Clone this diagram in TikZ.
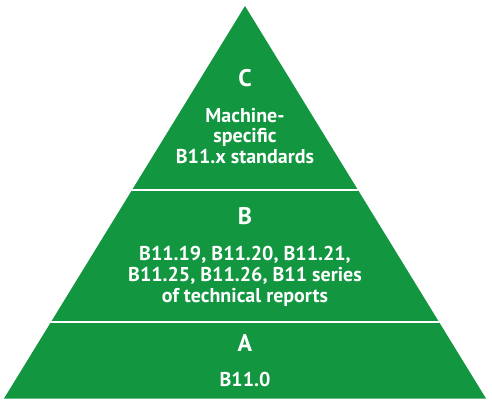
\documentclass[tikz,border=0pt]{standalone}
\usepackage{fontspec}
\setmainfont{PT Sans}
\definecolor{pyrgreen}{RGB}{18,150,64}
\begin{document}
\begin{tikzpicture}[x=1pt,y=-1pt,
  lbl/.style={text=white,font=\bfseries\fontsize{24}{28}\selectfont,inner sep=0,anchor=base},
  txt/.style={text=white,font=\bfseries\fontsize{20}{24}\selectfont,inner sep=0,anchor=base}]
\useasboundingbox (0,0) rectangle (492,414);
\begin{scope}
  \clip (245,6) -- (4,398.5) -- (486,398.5) -- cycle;
  \fill[pyrgreen] (0,0) rectangle (492,414);
  \draw[white,line width=2pt] (0,190) -- (492,190);
  \draw[white,line width=2pt] (0,321.5) -- (492,321.5);
\end{scope}
% C tier
\node[lbl] (c) at (245,87) {C};
\node[txt] (c1) at (245,122.5) {Machine-};
\node[txt] (c2) at (245,143) {specific};
\node[txt] (c3) at (245,163.5) {B11.x standards};
% B tier
\node[lbl] (b) at (245,224) {B};
\node[txt] (b1) at (245,260) {B11.19, B11.20, B11.21,};
\node[txt] (b2) at (245,281) {B11.25, B11.26, B11 series};
\node[txt] (b3) at (245,302) {of technical reports};
% A tier
\node[lbl] (a) at (245,351.5) {A};
\node[txt] (a1) at (245,386.5) {B11.0};
\end{tikzpicture}
\end{document}
